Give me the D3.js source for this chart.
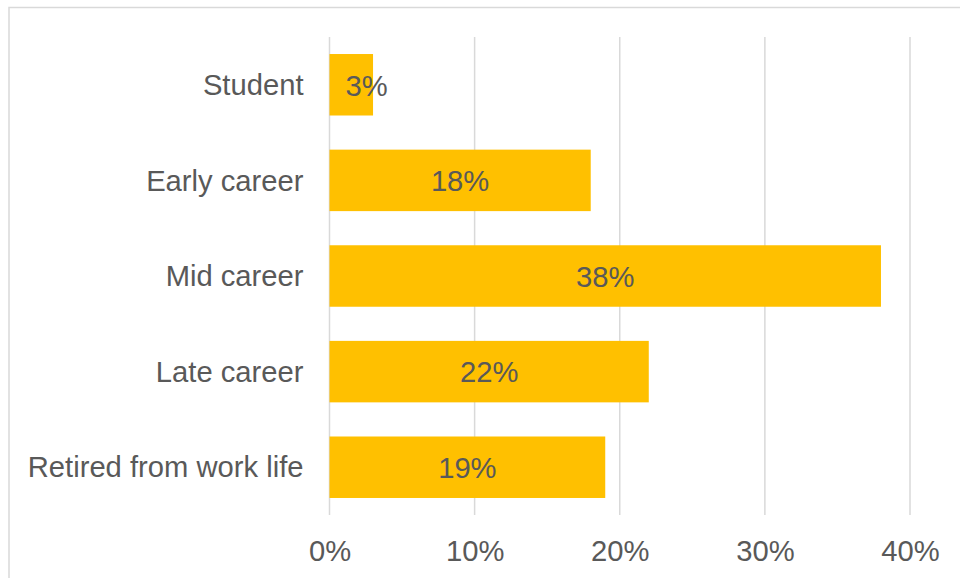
<!DOCTYPE html>
<html>
<head>
<meta charset="utf-8">
<script src="https://cdn.jsdelivr.net/npm/d3@7"></script>
<style>
  html, body { margin: 0; padding: 0; background: #fff; }
  svg { display: block; }
</style>
</head>
<body>
<svg id="chart" width="960" height="578"></svg>
<script>
// Career stage shares (percent)
const categories = ["Student", "Early career", "Mid career", "Late career", "Retired from work life"];
const values = [3, 18, 38, 22, 19];
const tickValues = [0, 10, 20, 30, 40];

const W = 960, H = 578;
const font = "'Liberation Sans', Arial, sans-serif";
const fontSize = 29.2;
const textColor = "#595959";
const gridColor = "#D9D9D9";
const barColor = "#FFC000";

const svg = d3.select("#chart");

// chart frame (extends past the visible area on the right and bottom)
svg.append("rect")
  .attr("x", 9).attr("y", 7.5)
  .attr("width", 1000).attr("height", 700)
  .attr("fill", "#fff")
  .attr("stroke", gridColor).attr("stroke-width", 1.5);

const plot = { left: 329.5, right: 910, top: 37, bottom: 515 };

const x = d3.scaleLinear().domain([0, 40]).range([plot.left, plot.right]);
const y = d3.scaleBand().domain(categories).range([plot.top, plot.bottom]).paddingInner(0.357).paddingOuter(0.178);

// vertical gridlines
svg.append("g").selectAll("line").data(tickValues).join("line")
  .attr("x1", d => x(d)).attr("x2", d => x(d))
  .attr("y1", plot.top).attr("y2", plot.bottom)
  .attr("stroke", gridColor).attr("stroke-width", 1.5);

// bars
svg.append("g").selectAll("rect").data(values).join("rect")
  .attr("x", x(0))
  .attr("y", (d, i) => y(categories[i]))
  .attr("width", d => x(d) - x(0))
  .attr("height", y.bandwidth())
  .attr("fill", barColor);

// category labels
svg.append("g").selectAll("text").data(categories).join("text")
  .attr("x", 303.5)
  .attr("y", d => y(d) + y.bandwidth() / 2)
  .attr("dy", "0.35em")
  .attr("text-anchor", "end")
  .attr("font-family", font).attr("font-size", fontSize)
  .attr("fill", textColor)
  .text(d => d);

// value labels, centred on the bar but kept clear of the axis line
svg.append("g").selectAll("text").data(values).join("text")
  .attr("x", d => Math.max((x(0) + x(d)) / 2, x(0) + 37))
  .attr("y", (d, i) => y(categories[i]) + y.bandwidth() / 2)
  .attr("dy", "0.37em")
  .attr("text-anchor", "middle")
  .attr("font-family", font).attr("font-size", fontSize)
  .attr("fill", textColor)
  .text(d => d + "%");

// x axis tick labels
const xAxis = d3.axisBottom(x).tickValues(tickValues).tickSize(0).tickPadding(0).tickFormat(d => d + "%");
const axisG = svg.append("g").attr("transform", `translate(0, 560.5)`).call(xAxis);
axisG.select(".domain").remove();
axisG.selectAll("text")
  .attr("dy", 0).attr("y", 0)
  .attr("font-family", font).attr("font-size", fontSize)
  .attr("fill", textColor);
</script>
</body>
</html>
